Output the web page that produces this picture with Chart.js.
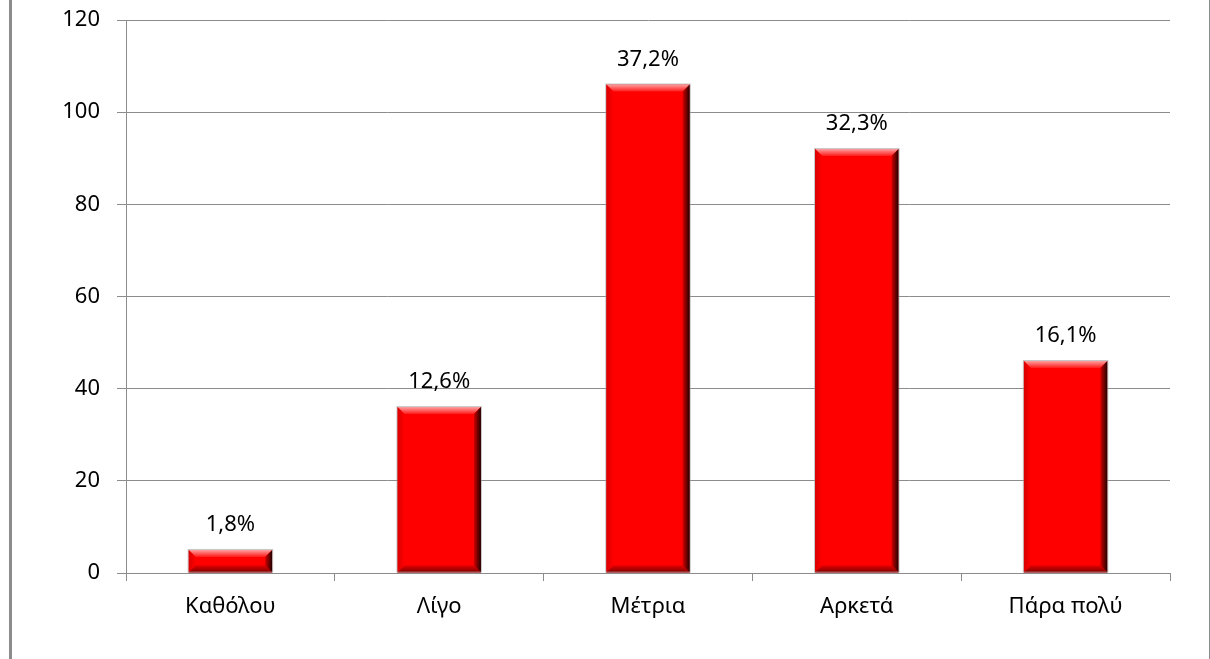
<!DOCTYPE html>
<html>
<head>
<meta charset="utf-8">
<script src="https://cdn.jsdelivr.net/npm/chart.js@4.4.1/dist/chart.umd.min.js"></script>
<style>
  html, body { margin: 0; padding: 0; background: #fff; }
  #wrap { position: relative; width: 1210px; height: 659px; }
  #frame { position: absolute; left: 9px; top: 0; width: 1197px; height: 659px; border-left: 3px solid #8c8c8c; border-right: 3px solid #8c8c8c; pointer-events: none; }
</style>
</head>
<body>
<div id="wrap">
  <canvas id="chart" width="1210" height="659"></canvas>
  <div id="frame"></div>
</div>
<script>
const categories = ['Καθόλου', 'Λίγο', 'Μέτρια', 'Αρκετά', 'Πάρα πολύ']
const counts = [5, 36, 106, 92, 46]
const percentLabels = ['1,8%', '12,6%', '37,2%', '32,3%', '16,1%']
const yTicks = [0, 20, 40, 60, 80, 100, 120]

const FONT = "'Noto Sans', sans-serif"
const FSIZE = 22

// bevelled bars + value labels drawn on top of chart.js bars
const bevelPlugin = {
  id: 'bevel',
  afterDatasetsDraw(chart) {
    const ctx = chart.ctx
    const meta = chart.getDatasetMeta(0)
    meta.data.forEach((bar, i) => {
      const l = bar.x - bar.width / 2
      const r = bar.x + bar.width / 2
      const t = bar.y
      const b = bar.base
      const d = Math.min(7, (b - t) / 2)
      ctx.save()
      // top
      let g = ctx.createLinearGradient(0, t, 0, t + d)
      g.addColorStop(0, '#ffa0a0')
      g.addColorStop(1, '#ff1a1a')
      ctx.fillStyle = g
      ctx.beginPath()
      ctx.moveTo(l, t); ctx.lineTo(r, t); ctx.lineTo(r - d, t + d); ctx.lineTo(l + d, t + d); ctx.closePath()
      ctx.fill()
      // left
      g = ctx.createLinearGradient(l, 0, l + d, 0)
      g.addColorStop(0, '#d80000')
      g.addColorStop(1, '#ff0000')
      ctx.fillStyle = g
      ctx.beginPath()
      ctx.moveTo(l, t); ctx.lineTo(l + d, t + d); ctx.lineTo(l + d, b - d); ctx.lineTo(l, b); ctx.closePath()
      ctx.fill()
      // right
      g = ctx.createLinearGradient(r - d, 0, r, 0)
      g.addColorStop(0, '#d00000')
      g.addColorStop(1, '#200000')
      ctx.fillStyle = g
      ctx.beginPath()
      ctx.moveTo(r, t); ctx.lineTo(r, b); ctx.lineTo(r - d, b - d); ctx.lineTo(r - d, t + d); ctx.closePath()
      ctx.fill()
      // bottom
      g = ctx.createLinearGradient(0, b - d, 0, b)
      g.addColorStop(0, '#e00000')
      g.addColorStop(1, '#800000')
      ctx.fillStyle = g
      ctx.beginPath()
      ctx.moveTo(l, b); ctx.lineTo(l + d, b - d); ctx.lineTo(r - d, b - d); ctx.lineTo(r, b); ctx.closePath()
      ctx.fill()
      // thin light outline
      ctx.strokeStyle = 'rgba(160,160,160,0.6)'
      ctx.lineWidth = 1
      ctx.strokeRect(l - 0.5, t - 0.5, r - l + 1, b - t)

      ctx.fillStyle = '#000'
      ctx.font = FSIZE + 'px ' + FONT
      ctx.textAlign = 'center'
      ctx.textBaseline = 'middle'
      ctx.fillText(percentLabels[i], bar.x, t - 25)
      ctx.restore()
    })
  }
}

const ctx = document.getElementById('chart').getContext('2d')
new Chart(ctx, {
  type: 'bar',
  data: {
    labels: categories,
    datasets: [{
      data: counts,
      backgroundColor: '#ff0000',
      borderWidth: 0,
      categoryPercentage: 1,
      barPercentage: 0.4,
    }]
  },
  options: {
    responsive: false,
    animation: false,
    layout: { padding: { top: 20, right: 40, left: 0, bottom: 0 } },
    plugins: { legend: { display: false }, tooltip: { enabled: false } },
    scales: {
      x: {
        grid: { display: true, drawOnChartArea: false, offset: true, color: '#8c8c8c', tickLength: 8 },
        border: { color: '#8c8c8c' },
        ticks: { color: '#000', font: { size: FSIZE, family: FONT }, padding: 13 },
        afterFit(scale) { scale.height = 86; scale.paddingLeft = 0; scale.paddingRight = 0 },
      },
      y: {
        min: 0,
        max: 120,
        afterBuildTicks(scale) { scale.ticks = yTicks.map((v) => ({ value: v })) },
        grid: { color: '#8c8c8c', tickLength: 9 },
        border: { color: '#8c8c8c' },
        ticks: { color: '#000', font: { size: FSIZE, family: FONT }, padding: 17 },
        afterFit(scale) { scale.width = 126; scale.paddingTop = 0; scale.paddingBottom = 0 },
      }
    }
  },
  plugins: [bevelPlugin]
})
</script>
</body>
</html>
